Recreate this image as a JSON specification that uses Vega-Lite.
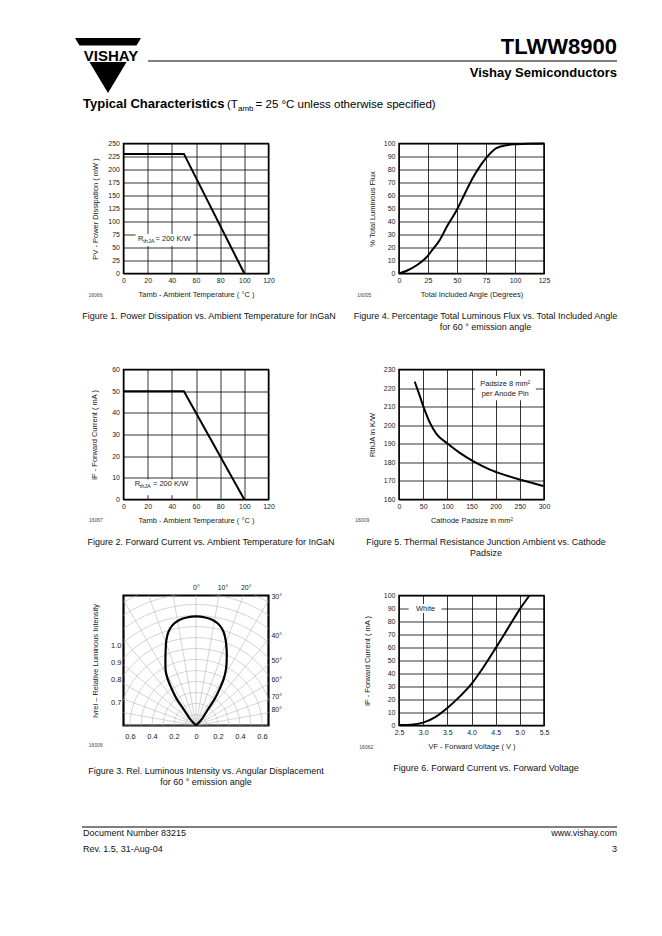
{
  "$schema": "https://vega.github.io/schema/vega-lite/v6.json",
  "background": "white",
  "padding": {"left": 71.5, "top": 34.5, "right": 0, "bottom": 0},
  "columns": 2,
  "bounds": "flush",
  "spacing": {"row": 96, "column": 130.5},
  "config": {
    "font": "Liberation Sans",
    "view": {"stroke": "#000", "strokeWidth": 1.5},
    "axis": {"grid": true, "gridColor": "#000", "gridWidth": 0.8, "gridOpacity": 1, "domain": false, "ticks": false, "tickSize": 0, "labelFontSize": 7, "labelColor": "#222", "labelPadding": 4, "labelOverlap": false, "labelFlush": false, "titleFontSize": 7.5, "titleFontWeight": "normal", "titleColor": "#222"},
    "axisX": {"labelPadding": 3, "titlePadding": 6.5},
    "title": {"fontSize": 9, "fontWeight": "normal", "color": "#111", "orient": "bottom", "anchor": "middle", "frame": "group", "offset": 14, "lineHeight": 11.5},
    "text": {"color": "#222"}
  },
  "concat": [
    {
      "width": 145, "height": 130,
      "title": {"text": "Figure 1. Power Dissipation vs. Ambient Temperature for InGaN", "dx": 13},
      "layer": [
        {
          "data": {"values": [{"t": 0, "p": 230}, {"t": 50, "p": 230}, {"t": 100, "p": 0}]},
          "mark": {"type": "line", "color": "#000", "strokeWidth": 2},
          "encoding": {
            "x": {"field": "t", "type": "quantitative", "scale": {"domain": [0, 120], "nice": false}, "axis": {"values": [0, 20, 40, 60, 80, 100, 120], "tickCount": 20, "labelOverlap": false, "title": "Tamb  -  Ambient Temperature    ( °C )"}},
            "y": {"field": "p", "type": "quantitative", "scale": {"domain": [0, 250], "nice": false}, "axis": {"values": [0, 25, 50, 75, 100, 125, 150, 175, 200, 225, 250], "tickCount": 20, "labelOverlap": false, "title": "PV  -  Power Dissipation ( mW )", "titlePadding": 8}}
          }
        },
        {"data": {"values": [{}]}, "mark": {"type": "rect", "color": "white"}, "encoding": {"x": {"datum": 10}, "x2": {"datum": 58}, "y": {"datum": 53}, "y2": {"datum": 76}}},
        {"data": {"values": [{}]}, "mark": {"type": "text", "text": "R", "fontSize": 7.5, "align": "left", "baseline": "middle"}, "encoding": {"x": {"datum": 12}, "y": {"datum": 65.8}}},
        {"data": {"values": [{}]}, "mark": {"type": "text", "text": "thJA", "fontSize": 5.5, "align": "left", "baseline": "middle", "dy": 2}, "encoding": {"x": {"datum": 16.4}, "y": {"datum": 65.8}}},
        {"data": {"values": [{}]}, "mark": {"type": "text", "text": "= 200 K/W", "fontSize": 7.5, "align": "left", "baseline": "middle"}, "encoding": {"x": {"datum": 26.5}, "y": {"datum": 65.8}}},
        {"data": {"values": [{}]}, "mark": {"type": "text", "text": "16066", "fontSize": 5, "align": "center", "baseline": "middle", "color": "#444"}, "encoding": {"x": {"datum": -23.2}, "y": {"datum": -40.4}}},
        {"data": {"values": [{}]}, "mark": {"type": "point", "shape": "M-1,-0.8333L1,-0.8333L0,0.8333Z", "size": 4356, "filled": true, "color": "#000", "opacity": 1}, "encoding": {"x": {"datum": -12.83}, "y": {"datum": 400}}},
        {"data": {"values": [{}]}, "mark": {"type": "rect", "color": "white"}, "encoding": {"x": {"datum": -41.8}, "x2": {"datum": 16.1}, "y": {"datum": 438.5}, "y2": {"datum": 406.7}}},
        {"data": {"values": [{}]}, "mark": {"type": "text", "text": "VISHAY", "fontSize": 15, "fontWeight": "bold", "align": "center", "baseline": "alphabetic", "color": "#000"}, "encoding": {"x": {"datum": -10.34}, "y": {"datum": 408.7}}},
        {"data": {"values": [{}]}, "mark": {"type": "rule", "color": "#000", "strokeWidth": 1}, "encoding": {"x": {"datum": 20.28}, "x2": {"datum": 408.4}, "y": {"datum": 408.65}}},
        {"data": {"values": [{}]}, "mark": {"type": "text", "text": "TLWW8900", "fontSize": 22, "fontWeight": "bold", "align": "right", "baseline": "alphabetic", "color": "#000"}, "encoding": {"x": {"datum": 408.4}, "y": {"datum": 422.1}}},
        {"data": {"values": [{}]}, "mark": {"type": "text", "text": "Vishay Semiconductors", "fontSize": 13, "fontWeight": "bold", "align": "right", "baseline": "alphabetic", "color": "#000"}, "encoding": {"x": {"datum": 408.4}, "y": {"datum": 377.9}}},
        {"data": {"values": [{}]}, "mark": {"type": "text", "text": "Typical Characteristics", "fontSize": 13, "fontWeight": "bold", "align": "left", "baseline": "alphabetic", "color": "#000"}, "encoding": {"x": {"datum": -33.52}, "y": {"datum": 318.3}}},
        {"data": {"values": [{}]}, "mark": {"type": "text", "text": "(T", "fontSize": 11.5, "align": "left", "baseline": "alphabetic", "color": "#000"}, "encoding": {"x": {"datum": 85.65}, "y": {"datum": 318.3}}},
        {"data": {"values": [{}]}, "mark": {"type": "text", "text": "amb", "fontSize": 8, "align": "left", "baseline": "alphabetic", "color": "#000"}, "encoding": {"x": {"datum": 94.76}, "y": {"datum": 312.5}}},
        {"data": {"values": [{}]}, "mark": {"type": "text", "text": "= 25 °C unless otherwise specified)", "fontSize": 11.5, "align": "left", "baseline": "alphabetic", "color": "#000"}, "encoding": {"x": {"datum": 109.3}, "y": {"datum": 318.3}}}
      ]
    },
    {
      "width": 145, "height": 130,
      "title": {"text": ["Figure 4. Percentage Total Luminous Flux vs. Total Included Angle", "for 60 ° emission angle"], "dx": 14},
      "layer": [
        {
          "data": {"values": [{"a": 0, "f": 0}, {"a": 7.2, "f": 2.3}, {"a": 15.9, "f": 6.7}, {"a": 23.1, "f": 11.9}, {"a": 28.9, "f": 18.3}, {"a": 35.3, "f": 26}, {"a": 41.4, "f": 36.3}, {"a": 49.2, "f": 47.9}, {"a": 56.4, "f": 60.8}, {"a": 63.7, "f": 73.7}, {"a": 70.9, "f": 84}, {"a": 76.7, "f": 90.5}, {"a": 83.9, "f": 96.4}, {"a": 92.6, "f": 98.7}, {"a": 101.3, "f": 99.5}, {"a": 110, "f": 99.9}, {"a": 125, "f": 100}]},
          "mark": {"type": "line", "color": "#000", "strokeWidth": 2, "interpolate": "monotone"},
          "encoding": {
            "x": {"field": "a", "type": "quantitative", "scale": {"domain": [0, 125], "nice": false}, "axis": {"values": [0, 25, 50, 75, 100, 125], "tickCount": 20, "labelOverlap": false, "title": "Total Included Angle (Degrees)"}},
            "y": {"field": "f", "type": "quantitative", "scale": {"domain": [0, 100], "nice": false}, "axis": {"values": [0, 10, 20, 30, 40, 50, 60, 70, 80, 90, 100], "tickCount": 20, "labelOverlap": false, "title": "% Total Luminous Flux", "titlePadding": 6.5}}
          }
        },
        {"data": {"values": [{}]}, "mark": {"type": "text", "text": "16005", "fontSize": 5, "align": "center", "baseline": "middle", "color": "#444"}, "encoding": {"x": {"datum": -29.9}, "y": {"datum": -16.5}}}
      ]
    },
    {
      "width": 145, "height": 130,
      "title": {"text": "Figure 2. Forward Current vs. Ambient Temperature for InGaN", "dx": 15},
      "layer": [
        {
          "data": {"values": [{"t": 0, "i": 50}, {"t": 50, "i": 50}, {"t": 100, "i": 0}]},
          "mark": {"type": "line", "color": "#000", "strokeWidth": 2},
          "encoding": {
            "x": {"field": "t", "type": "quantitative", "scale": {"domain": [0, 120], "nice": false}, "axis": {"values": [0, 20, 40, 60, 80, 100, 120], "tickCount": 20, "labelOverlap": false, "title": "Tamb  - Ambient Temperature    ( °C )"}},
            "y": {"field": "i", "type": "quantitative", "scale": {"domain": [0, 60], "nice": false}, "axis": {"values": [0, 10, 20, 30, 40, 50, 60], "tickCount": 20, "labelOverlap": false, "title": "IF  -  Forward Current ( mA )", "titlePadding": 13}}
          }
        },
        {"data": {"values": [{}]}, "mark": {"type": "rect", "color": "white"}, "encoding": {"x": {"datum": 6}, "x2": {"datum": 58}, "y": {"datum": 2}, "y2": {"datum": 9.4}}},
        {"data": {"values": [{}]}, "mark": {"type": "text", "text": "R", "fontSize": 7.5, "align": "left", "baseline": "middle"}, "encoding": {"x": {"datum": 9.27}, "y": {"datum": 7}}},
        {"data": {"values": [{}]}, "mark": {"type": "text", "text": "thJA", "fontSize": 5.5, "align": "left", "baseline": "middle", "dy": 2}, "encoding": {"x": {"datum": 13.4}, "y": {"datum": 7}}},
        {"data": {"values": [{}]}, "mark": {"type": "text", "text": "= 200 K/W", "fontSize": 7.5, "align": "left", "baseline": "middle"}, "encoding": {"x": {"datum": 24.4}, "y": {"datum": 7}}},
        {"data": {"values": [{}]}, "mark": {"type": "text", "text": "16067", "fontSize": 5, "align": "center", "baseline": "middle", "color": "#444"}, "encoding": {"x": {"datum": -22.9}, "y": {"datum": -9.6}}}
      ]
    },
    {
      "width": 145, "height": 130,
      "title": {"text": ["Figure 5. Thermal Resistance Junction Ambient vs. Cathode", "Padsize"], "dx": 14.5},
      "layer": [
        {
          "data": {"values": [{"s": 32.5, "r": 223.5}, {"s": 42.8, "r": 215.9}, {"s": 51.1, "r": 209.6}, {"s": 63.6, "r": 201.5}, {"s": 77.4, "r": 195.3}, {"s": 101.6, "r": 189.9}, {"s": 125.8, "r": 185.1}, {"s": 156.9, "r": 180.1}, {"s": 188, "r": 176.1}, {"s": 222.5, "r": 172.9}, {"s": 257, "r": 170.2}, {"s": 298.5, "r": 167.2}]},
          "mark": {"type": "line", "color": "#000", "strokeWidth": 2, "interpolate": "monotone"},
          "encoding": {
            "x": {"field": "s", "type": "quantitative", "scale": {"domain": [0, 300], "nice": false}, "axis": {"values": [0, 50, 100, 150, 200, 250, 300], "tickCount": 20, "labelOverlap": false, "title": "Cathode Padsize in mm²"}},
            "y": {"field": "r", "type": "quantitative", "scale": {"domain": [160, 230], "nice": false, "zero": false}, "axis": {"values": [160, 170, 180, 190, 200, 210, 220, 230], "tickCount": 20, "labelOverlap": false, "title": "RthJA in K/W", "titlePadding": 6.5}}
          }
        },
        {"data": {"values": [{}]}, "mark": {"type": "rect", "color": "white"}, "encoding": {"x": {"datum": 157}, "x2": {"datum": 283}, "y": {"datum": 213.5}, "y2": {"datum": 226.5}}},
        {"data": {"values": [{}]}, "mark": {"type": "text", "text": "Padsize 8 mm²", "fontSize": 7.5, "align": "center", "baseline": "middle"}, "encoding": {"x": {"datum": 219.8}, "y": {"datum": 222.2}}},
        {"data": {"values": [{}]}, "mark": {"type": "text", "text": "per Anode Pin", "fontSize": 7.5, "align": "center", "baseline": "middle"}, "encoding": {"x": {"datum": 219.8}, "y": {"datum": 216.8}}},
        {"data": {"values": [{}]}, "mark": {"type": "text", "text": "16009", "fontSize": 5, "align": "center", "baseline": "middle", "color": "#444"}, "encoding": {"x": {"datum": -76.1}, "y": {"datum": 148.8}}}
      ]
    },
    {
      "width": 145, "height": 130,
      "view": {"stroke": "#000", "strokeWidth": 2.2},
      "layer": [
        {
          "data": {"values": [{"x0": 0, "y0": 0, "ex": -2, "ey": 0}, {"x0": 0, "y0": 0, "ex": -1.96962, "ey": 0.3473}, {"x0": 0, "y0": 0, "ex": -1.87939, "ey": 0.68404}, {"x0": 0, "y0": 0, "ex": -1.73205, "ey": 1}, {"x0": 0, "y0": 0, "ex": -1.53209, "ey": 1.28558}, {"x0": 0, "y0": 0, "ex": -1.28558, "ey": 1.53209}, {"x0": 0, "y0": 0, "ex": -1, "ey": 1.73205}, {"x0": 0, "y0": 0, "ex": -0.68404, "ey": 1.87939}, {"x0": 0, "y0": 0, "ex": -0.3473, "ey": 1.96962}, {"x0": 0, "y0": 0, "ex": 0, "ey": 2}, {"x0": 0, "y0": 0, "ex": 0.3473, "ey": 1.96962}, {"x0": 0, "y0": 0, "ex": 0.68404, "ey": 1.87939}, {"x0": 0, "y0": 0, "ex": 1, "ey": 1.73205}, {"x0": 0, "y0": 0, "ex": 1.28558, "ey": 1.53209}, {"x0": 0, "y0": 0, "ex": 1.53209, "ey": 1.28558}, {"x0": 0, "y0": 0, "ex": 1.73205, "ey": 1}, {"x0": 0, "y0": 0, "ex": 1.87939, "ey": 0.68404}, {"x0": 0, "y0": 0, "ex": 1.96962, "ey": 0.3473}, {"x0": 0, "y0": 0, "ex": 2, "ey": 0}]},
          "mark": {"type": "rule", "color": "#b8b8b8", "strokeWidth": 0.6, "clip": true},
          "encoding": {
            "x": {"field": "x0", "type": "quantitative", "scale": {"domain": [-0.659, 0.659], "nice": false, "zero": false}, "axis": {"values": [-0.6, -0.4, -0.2, 0, 0.2, 0.4, 0.6], "tickCount": 20, "labelOverlap": false, "labelExpr": "datum.value == 0 ? '0' : format(abs(datum.value), '.1f')", "grid": false, "title": null, "labelFontSize": 7.5, "labelPadding": 6.5}},
            "y": {"field": "y0", "type": "quantitative", "scale": {"domain": [0, 1.1818], "nice": false}, "axis": {"values": [0.205, 0.414, 0.571, 0.723], "tickCount": 20, "labelOverlap": false, "labelExpr": "datum.value > 0.7 ? '1.0' : datum.value > 0.5 ? '0.9' : datum.value > 0.3 ? '0.8' : '0.7'", "grid": false, "title": "Ivrel  –  Relative Luminous Intensity", "labelFontSize": 7.5, "labelPadding": 2.5, "titlePadding": 11}},
            "x2": {"field": "ex"},
            "y2": {"field": "ey"}
          }
        },
        {
          "data": {"values": [{"cx": 0, "cy": 0, "r": 0.1}, {"cx": 0, "cy": 0, "r": 0.2}, {"cx": 0, "cy": 0, "r": 0.3}, {"cx": 0, "cy": 0, "r": 0.4}, {"cx": 0, "cy": 0, "r": 0.5}, {"cx": 0, "cy": 0, "r": 0.6}, {"cx": 0, "cy": 0, "r": 0.7}, {"cx": 0, "cy": 0, "r": 0.8}, {"cx": 0, "cy": 0, "r": 0.9}, {"cx": 0, "cy": 0, "r": 1.0}, {"cx": 0, "cy": 0, "r": 1.1}, {"cx": 0, "cy": 0, "r": 1.2}, {"cx": 0, "cy": 0, "r": 1.3}]},
          "mark": {"type": "point", "shape": "circle", "filled": false, "color": "#b8b8b8", "strokeWidth": 0.6, "opacity": 1, "clip": true},
          "encoding": {
            "x": {"field": "cx", "type": "quantitative"},
            "y": {"field": "cy", "type": "quantitative"},
            "size": {"field": "r", "type": "quantitative", "scale": {"type": "pow", "exponent": 2, "domain": [0, 1], "range": [0, 48400]}, "legend": null}
          }
        },
        {
          "data": {"values": [{"o": 0, "x": 0, "y": 0}, {"o": 1, "x": -0.055, "y": 0.061}, {"o": 2, "x": -0.115, "y": 0.152}, {"o": 3, "x": -0.176, "y": 0.242}, {"o": 4, "x": -0.221, "y": 0.333}, {"o": 5, "x": -0.258, "y": 0.424}, {"o": 6, "x": -0.276, "y": 0.5}, {"o": 7, "x": -0.278, "y": 0.591}, {"o": 8, "x": -0.276, "y": 0.682}, {"o": 9, "x": -0.27, "y": 0.773}, {"o": 10, "x": -0.252, "y": 0.848}, {"o": 11, "x": -0.215, "y": 0.91}, {"o": 12, "x": -0.16, "y": 0.955}, {"o": 13, "x": -0.085, "y": 0.982}, {"o": 14, "x": 0, "y": 0.992}, {"o": 15, "x": 0.085, "y": 0.982}, {"o": 16, "x": 0.16, "y": 0.955}, {"o": 17, "x": 0.215, "y": 0.91}, {"o": 18, "x": 0.252, "y": 0.848}, {"o": 19, "x": 0.27, "y": 0.773}, {"o": 20, "x": 0.279, "y": 0.682}, {"o": 21, "x": 0.279, "y": 0.591}, {"o": 22, "x": 0.273, "y": 0.515}, {"o": 23, "x": 0.252, "y": 0.424}, {"o": 24, "x": 0.215, "y": 0.333}, {"o": 25, "x": 0.17, "y": 0.242}, {"o": 26, "x": 0.112, "y": 0.152}, {"o": 27, "x": 0.055, "y": 0.061}, {"o": 28, "x": 0, "y": 0}]},
          "mark": {"type": "line", "color": "#000", "strokeWidth": 2.2, "interpolate": "cardinal"},
          "encoding": {
            "x": {"field": "x", "type": "quantitative"},
            "y": {"field": "y", "type": "quantitative"},
            "order": {"field": "o", "type": "quantitative"}
          }
        },
        {
          "data": {"values": [{"lab": "30°", "x": 0.686, "y": 1.171}, {"lab": "40°", "x": 0.686, "y": 0.814}, {"lab": "50°", "x": 0.686, "y": 0.586}, {"lab": "60°", "x": 0.686, "y": 0.414}, {"lab": "70°", "x": 0.686, "y": 0.259}, {"lab": "80°", "x": 0.686, "y": 0.141}]},
          "mark": {"type": "text", "fontSize": 7, "align": "left", "baseline": "middle"},
          "encoding": {"x": {"field": "x", "type": "quantitative"}, "y": {"field": "y", "type": "quantitative"}, "text": {"field": "lab", "type": "nominal"}}
        },
        {
          "data": {"values": [{"lab": "0°", "x": 0.003, "y": 1.2527}, {"lab": "10°", "x": 0.245, "y": 1.2527}, {"lab": "20°", "x": 0.457, "y": 1.2527}]},
          "mark": {"type": "text", "fontSize": 7, "align": "center", "baseline": "middle"},
          "encoding": {"x": {"field": "x", "type": "quantitative"}, "y": {"field": "y", "type": "quantitative"}, "text": {"field": "lab", "type": "nominal"}}
        },
        {"data": {"values": [{}]}, "mark": {"type": "text", "text": "16006", "fontSize": 5, "align": "center", "baseline": "middle", "color": "#444"}, "encoding": {"x": {"datum": -0.911}, "y": {"datum": -0.18}}},
        {"data": {"values": [{}]}, "mark": {"type": "text", "text": "Figure 3. Rel. Luminous Intensity vs. Angular Displacement", "fontSize": 9, "align": "center", "baseline": "middle", "color": "#111"}, "encoding": {"x": {"datum": 0.0909}, "y": {"datum": -0.41364}}},
        {"data": {"values": [{}]}, "mark": {"type": "text", "text": "for 60 ° emission angle", "fontSize": 9, "align": "center", "baseline": "middle", "color": "#111"}, "encoding": {"x": {"datum": 0.0909}, "y": {"datum": -0.51364}}},
        {"data": {"values": [{}]}, "mark": {"type": "rule", "color": "#000", "strokeWidth": 1}, "encoding": {"x": {"datum": -1.03636}, "x2": {"datum": 3.82727}, "y": {"datum": -0.92273}}},
        {"data": {"values": [{}]}, "mark": {"type": "text", "text": "Document Number 83215", "fontSize": 9, "align": "left", "baseline": "alphabetic", "color": "#111"}, "encoding": {"x": {"datum": -1.02727}, "y": {"datum": -1.00455}}},
        {"data": {"values": [{}]}, "mark": {"type": "text", "text": "Rev. 1.5, 31-Aug-04", "fontSize": 9, "align": "left", "baseline": "alphabetic", "color": "#111"}, "encoding": {"x": {"datum": -1.02727}, "y": {"datum": -1.15}}},
        {"data": {"values": [{}]}, "mark": {"type": "text", "text": "www.vishay.com", "fontSize": 9, "align": "right", "baseline": "alphabetic", "color": "#111"}, "encoding": {"x": {"datum": 3.82727}, "y": {"datum": -1.00455}}},
        {"data": {"values": [{}]}, "mark": {"type": "text", "text": "3", "fontSize": 9, "align": "right", "baseline": "alphabetic", "color": "#111"}, "encoding": {"x": {"datum": 3.82727}, "y": {"datum": -1.15}}}
      ]
    },
    {
      "width": 145, "height": 130,
      "title": {"text": "Figure 6. Forward Current vs. Forward Voltage", "dx": 14.5},
      "layer": [
        {
          "data": {"values": [{"v": 2.5, "i": 0.3}, {"v": 2.75, "i": 0.6}, {"v": 3.0, "i": 2.2}, {"v": 3.25, "i": 6.5}, {"v": 3.5, "i": 13.5}, {"v": 3.75, "i": 22}, {"v": 4.0, "i": 32}, {"v": 4.25, "i": 45}, {"v": 4.5, "i": 59.5}, {"v": 4.75, "i": 74.5}, {"v": 5.0, "i": 89.5}, {"v": 5.2, "i": 100}]},
          "mark": {"type": "line", "color": "#000", "strokeWidth": 2, "interpolate": "monotone"},
          "encoding": {
            "x": {"field": "v", "type": "quantitative", "scale": {"domain": [2.5, 5.5], "nice": false, "zero": false}, "axis": {"values": [2.5, 3, 3.5, 4, 4.5, 5, 5.5], "tickCount": 20, "labelOverlap": false, "format": ".1f", "title": "VF  -  Forward Voltage  ( V )"}},
            "y": {"field": "i", "type": "quantitative", "scale": {"domain": [0, 100], "nice": false}, "axis": {"values": [0, 10, 20, 30, 40, 50, 60, 70, 80, 90, 100], "tickCount": 20, "labelOverlap": false, "title": "IF  -  Forward Current ( mA )", "titlePadding": 11.5}}
          }
        },
        {"data": {"values": [{}]}, "mark": {"type": "rect", "color": "white"}, "encoding": {"x": {"datum": 2.7}, "x2": {"datum": 3.38}, "y": {"datum": 86.5}, "y2": {"datum": 93.5}}},
        {"data": {"values": [{}]}, "mark": {"type": "text", "text": "White", "fontSize": 7.5, "align": "center", "baseline": "middle"}, "encoding": {"x": {"datum": 3.05}, "y": {"datum": 90}}},
        {"data": {"values": [{}]}, "mark": {"type": "text", "text": "16062", "fontSize": 5, "align": "center", "baseline": "middle", "color": "#444"}, "encoding": {"x": {"datum": 1.823}, "y": {"datum": -16.3}}}
      ]
    }
  ]
}
